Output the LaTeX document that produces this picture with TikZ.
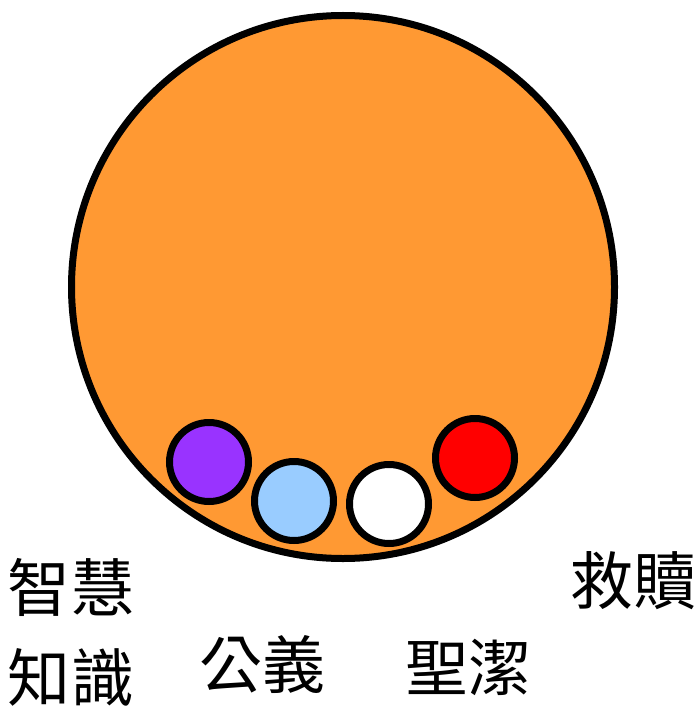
\documentclass[tikz,border=0pt]{standalone}
\usepackage{fontspec}
\newfontfamily\cjk{Noto Sans CJK TC}
\definecolor{naranja}{HTML}{FF9933}
\definecolor{morado}{HTML}{9933FF}
\definecolor{celeste}{HTML}{99CCFF}
\definecolor{rojo}{HTML}{FF0000}
\tikzset{
  bola/.style={circle, draw=black, line width=7pt, inner sep=0pt},
  rotulo/.style={inner sep=0pt, font=\cjk\fontsize{63}{72}\selectfont}
}
\begin{document}
\begin{tikzpicture}[x=1pt, y=-1pt]
\useasboundingbox (0,0) rectangle (698,706);

% Círculo grande
\node[bola, fill=naranja, minimum size=543pt] (mundo) at (343,287) {};

\foreach \nombre/\x/\y/\color in {
    sabiduria/209/462/morado,
    justicia/294/501/celeste,
    santidad/389/504/white,
    redencion/475/458/rojo} {
    % Bolas pequeñas
    \node[bola, fill=\color, minimum size=79pt] (\nombre) at (\x,\y) {};
}

% Etiquetas
\foreach \nombre/\x/\y/\texto in {
    txtsab/71/587/智慧,
    txtcon/71/677/知識,
    txtjus/262/664/公義,
    txtsan/468/667/聖潔,
    txtred/633/581/救贖} {
    \node[rotulo] (\nombre) at (\x,\y) {\texto};
}
\end{tikzpicture}
\end{document}
